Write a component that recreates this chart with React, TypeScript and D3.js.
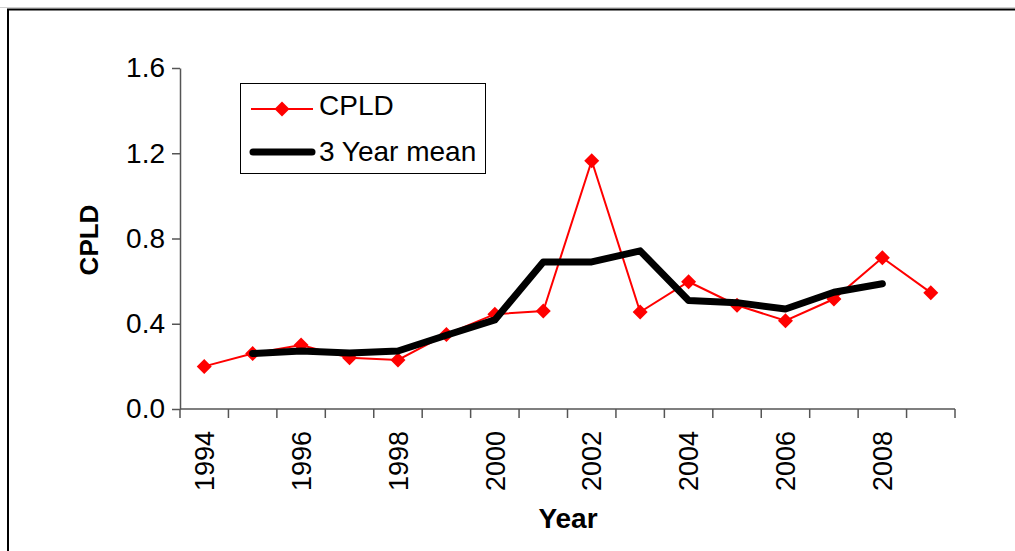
import React, { useRef, useEffect } from 'react';
import * as d3 from 'd3';

// values
const years = [1994, 1995, 1996, 1997, 1998, 1999, 2000, 2001, 2002, 2003, 2004, 2005, 2006, 2007, 2008, 2009];
const cpld = [0.2, 0.26, 0.3, 0.24, 0.23, 0.35, 0.445, 0.46, 1.165, 0.455, 0.597, 0.487, 0.414, 0.516, 0.71, 0.546];
const threeYearMean = [null, 0.26, 0.272, 0.263, 0.272, 0.346, 0.418, 0.69, 0.69, 0.742, 0.509, 0.499, 0.469, 0.548, 0.588, null];
const yTicks = [0, 0.4, 0.8, 1.2, 1.6];
const yearLabels = [1994, 1996, 1998, 2000, 2002, 2004, 2006, 2008];

const font = '"Liberation Sans", Arial, sans-serif';

const App = () => {
  const svgRef = useRef<SVGSVGElement>(null);

  useEffect(() => {
    const root = d3.select(svgRef.current);
    root.selectAll('*').remove();

    const width = 1015;
    const height = 551;
    const left = 180;
    const right = 955;
    const top = 68;
    const bottom = 409;

    const svg = root.attr('width', width).attr('height', height);

    svg.append('rect').attr('width', width).attr('height', height).attr('fill', '#fff');

    // outer frame
    svg.append('line').attr('x1', 0).attr('x2', width).attr('y1', 7.5).attr('y2', 7.5)
      .attr('stroke', '#d0d0d0').attr('stroke-width', 1);
    svg.append('path').attr('d', `M8,${height + 5}V9.5H${width + 5}`)
      .attr('fill', 'none').attr('stroke', '#000').attr('stroke-width', 2);

    const x = d3.scaleBand<number>().domain(years).range([left, right]);
    const y = d3.scaleLinear().domain([0, 1.6]).range([bottom, top]);
    const cx = (yr: number) => (x(yr) as number) + x.bandwidth() / 2;

    // y axis
    const yAxis = svg.append('g').attr('transform', `translate(${left},0)`)
      .call(d3.axisLeft(y).tickValues(yTicks).tickFormat(d3.format('.1f')).tickSize(8).tickSizeOuter(0));
    yAxis.select('.domain').attr('stroke', '#555').attr('stroke-width', 1.5);
    yAxis.selectAll('.tick line').attr('stroke', '#555').attr('stroke-width', 1.5);
    yAxis.selectAll('.tick text')
      .attr('font-family', font).attr('font-size', 28).attr('fill', '#000').attr('x', -15);

    // x axis with ticks on category boundaries
    svg.append('line').attr('x1', left).attr('x2', right).attr('y1', bottom).attr('y2', bottom)
      .attr('stroke', '#555').attr('stroke-width', 1.5);
    const bounds = years.map((yr) => x(yr) as number).concat([right]);
    svg.selectAll('.xtick').data(bounds).enter().append('line')
      .attr('x1', (d) => d).attr('x2', (d) => d)
      .attr('y1', bottom).attr('y2', bottom + 9)
      .attr('stroke', '#555').attr('stroke-width', 1.5);

    svg.selectAll('.xlabel').data(yearLabels).enter().append('text')
      .attr('transform', (d) => `translate(${cx(d)},${bottom + 22}) rotate(-90)`)
      .attr('dy', '0.36em')
      .attr('text-anchor', 'end')
      .attr('font-family', font).attr('font-size', 27)
      .text((d) => d);

    // axis titles
    svg.append('text').attr('transform', `translate(98,240) rotate(-90)`)
      .attr('text-anchor', 'middle').attr('font-family', font).attr('font-size', 26)
      .attr('font-weight', 'bold').text('CPLD');
    svg.append('text').attr('x', 568).attr('y', 528)
      .attr('text-anchor', 'middle').attr('font-family', font).attr('font-size', 28)
      .attr('font-weight', 'bold').text('Year');

    // CPLD series
    const cpldLine = d3.line<number>().x((_, i) => cx(years[i])).y((d) => y(d));
    svg.append('path').datum(cpld).attr('d', cpldLine)
      .attr('fill', 'none').attr('stroke', '#ff0000').attr('stroke-width', 2);

    const diamond = (s: number) => `M0,${-s}L${s},0L0,${s}L${-s},0Z`;
    svg.selectAll('.pt').data(cpld).enter().append('path')
      .attr('d', diamond(7.5))
      .attr('transform', (d, i) => `translate(${cx(years[i])},${y(d)})`)
      .attr('fill', '#ff0000');

    // 3 year mean
    const meanLine = d3.line<number | null>()
      .defined((d) => d !== null)
      .x((_, i) => cx(years[i]))
      .y((d) => y(d as number));
    svg.append('path').datum(threeYearMean).attr('d', meanLine)
      .attr('fill', 'none').attr('stroke', '#000').attr('stroke-width', 7)
      .attr('stroke-linecap', 'round').attr('stroke-linejoin', 'round');

    // legend
    const lg = svg.append('g');
    lg.append('rect').attr('x', 240.5).attr('y', 83.5).attr('width', 245).attr('height', 90)
      .attr('fill', '#fff').attr('stroke', '#000').attr('stroke-width', 1);
    lg.append('line').attr('x1', 251).attr('x2', 313).attr('y1', 109).attr('y2', 109)
      .attr('stroke', '#ff0000').attr('stroke-width', 2);
    lg.append('path').attr('d', diamond(7.5)).attr('transform', 'translate(282,109)').attr('fill', '#ff0000');
    lg.append('line').attr('x1', 253).attr('x2', 312).attr('y1', 152).attr('y2', 152)
      .attr('stroke', '#000').attr('stroke-width', 7).attr('stroke-linecap', 'round');
    lg.append('text').attr('x', 319).attr('y', 115).attr('font-family', font).attr('font-size', 28).text('CPLD');
    lg.append('text').attr('x', 319).attr('y', 161).attr('font-family', font).attr('font-size', 28).text('3 Year mean');
  }, []);

  return (
    <svg ref={svgRef} style={{ position: 'absolute', left: 0, top: 0, display: 'block' }} />
  );
};

export default App;
